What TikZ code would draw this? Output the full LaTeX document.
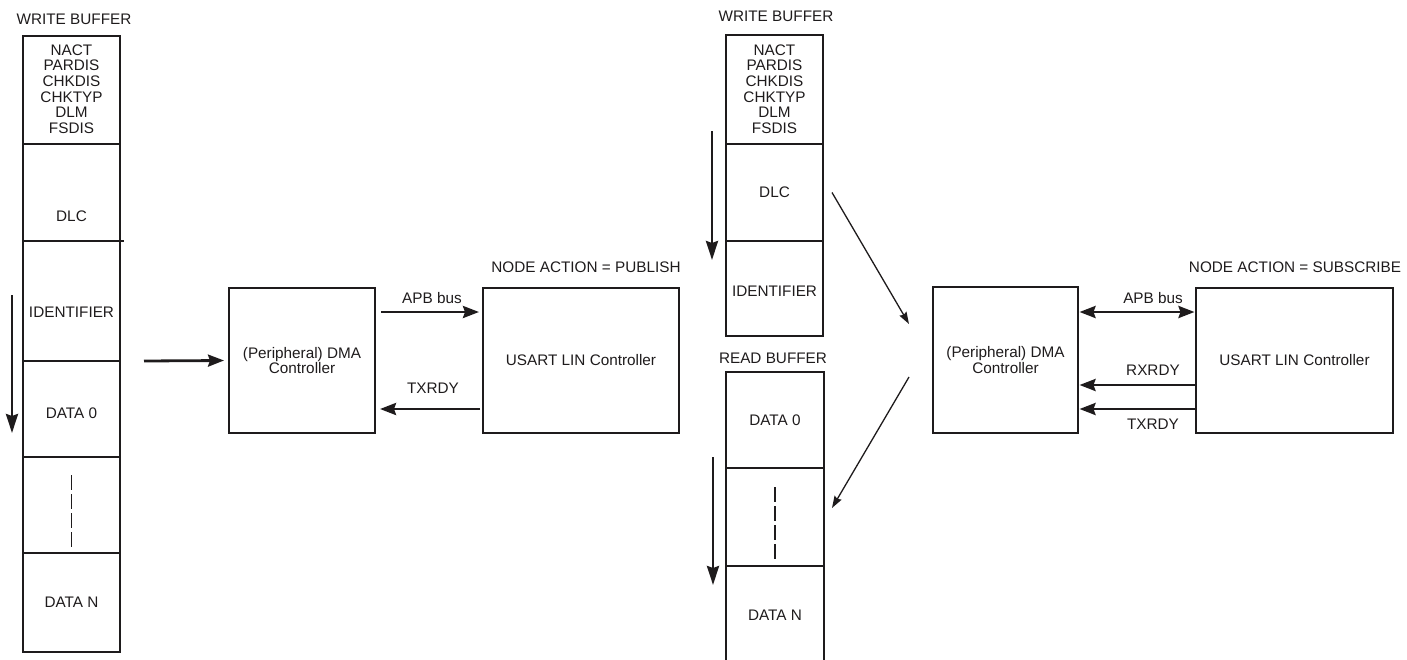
\documentclass[tikz,border=0pt]{standalone}
\usepackage{fontspec}
\setmainfont{Liberation Sans}
\usetikzlibrary{arrows.meta,calc}
\definecolor{ink}{RGB}{30,27,28}
\begin{document}
\begin{tikzpicture}[x=1pt,y=-1pt,
  font=\fontsize{15.3}{15.7}\selectfont,
  cell/.style={draw=ink, line width=2.8pt, minimum width=97pt, inner sep=0pt, outer sep=0pt},
  box/.style={draw=ink, line width=2.8pt, inner sep=0pt, outer sep=0pt, align=center, text=ink},
  txt/.style={inner sep=0pt, text=ink, align=center},
  arr/.style={ink, line width=2.8pt, -{Stealth[length=16pt,width=12pt,inset=2pt]}},
  dbl/.style={ink, line width=2.8pt, {Stealth[length=16pt,width=12pt,inset=2pt]}-{Stealth[length=16pt,width=12pt,inset=2pt]}},
  varr/.style={ink, line width=2.8pt, -{Stealth[length=19pt,width=12pt,inset=2pt]}},
  thinarr/.style={ink, line width=1.3pt, -{Stealth[length=12pt,width=8pt,inset=1.5pt]}},
  dashln/.style={ink, line width=1.3pt, dash pattern=on 15pt off 4pt},
  edge/.style={ink, line width=2.8pt}]
\useasboundingbox (0,0) rectangle (1407,659);

% ---------------- left write buffer ----------------
\node[txt] (lwbt) at (74,19) {WRITE BUFFER};
\node[cell, minimum height=108pt] (lhdr) at (71.5,90) {};
\node[cell, minimum height=97pt] (ldlc) at (71.5,192.5) {};
\node[cell, minimum height=120pt] (lid) at (71.5,301) {};
\node[cell, minimum height=96pt] (ld0) at (71.5,409) {};
\node[cell, minimum height=96pt] (ldots) at (71.5,505) {};
\node[cell, minimum height=99pt] (ldn) at (71.5,602.5) {};
\draw[edge] (ldlc.south east) -- ++(4,0);
\node[txt] (lhdrt) at (71.5,89) {NACT\\PARDIS\\CHKDIS\\CHKTYP\\DLM\\FSDIS};
\node[txt] (ldlct) at (71.5,216) {DLC};
\node[txt] (lidt) at (71.5,312) {IDENTIFIER};
\node[txt] (ld0t) at (71.5,413) {DATA 0};
\node[txt] (ldnt) at (71.5,602) {DATA N};
\draw[dashln] ($(ldots.north)+(0,18)$) -- ($(ldots.south)+(0,-6)$);
\coordinate (la1) at (12,295);
\coordinate (la2) at (12,433);
\draw[varr] (la1) -- (la2);

% ---------------- left controllers ----------------
\node[box, minimum width=146pt, minimum height=145pt] (ldma) at (302,360.5) {(Peripheral) DMA\\Controller};
\node[box, minimum width=196pt, minimum height=145pt] (lus) at (581,360.5) {USART LIN Controller};
\coordinate (lin) at (144,361);
\draw[arr] (lin) -- ($(ldma.west)+(-5,0)$);
\draw[arr] ($(ldma.north east)+(6,24)$) -- ($(lus.north west)+(-4,24)$);
\draw[arr] ($(lus.south west)+(-3,-24)$) -- ($(ldma.south east)+(5,-24)$);
\node[txt] (lapb) at (432,298) {APB bus};
\node[txt] (ltx) at (433,388) {TXRDY};
\node[txt] (lpub) at (586,267) {NODE ACTION = PUBLISH};

% ---------------- right write buffer ----------------
\node[txt] (rwbt) at (776,16) {WRITE BUFFER};
\node[cell, minimum height=109pt] (rhdr) at (774.5,89.5) {};
\node[cell, minimum height=97pt] (rdlc) at (774.5,192.5) {};
\node[cell, minimum height=95pt] (rid) at (774.5,288.5) {};
\node[txt] (rhdrt) at (774.5,89) {NACT\\PARDIS\\CHKDIS\\CHKTYP\\DLM\\FSDIS};
\node[txt] (rdlct) at (774.5,192) {DLC};
\node[txt] (ridt) at (774.5,291) {IDENTIFIER};
\coordinate (ra1) at (712,131);
\coordinate (ra2) at (712,260);
\draw[varr] (ra1) -- (ra2);

% ---------------- read buffer ----------------
\node[txt] (rrbt) at (773,358) {READ BUFFER};
\node[cell, minimum width=98pt, minimum height=96pt] (rd0) at (775,420) {};
\node[cell, minimum width=98pt, minimum height=98pt] (rdots) at (775,517) {};
\node[minimum width=98pt, minimum height=98pt, inner sep=0pt, outer sep=0pt] (rdn) at (775,615) {};
\draw[edge] (rdn.north west) -- (rdn.south west);
\draw[edge] (rdn.north east) -- (rdn.south east);
\node[txt] (rd0t) at (775,420) {DATA 0};
\node[txt] (rdnt) at (775,615) {DATA N};
\draw[dashln] ($(rdots.north)+(0,19)$) -- ($(rdots.south)+(0,-7)$);
\coordinate (rb1) at (713,457);
\coordinate (rb2) at (713,585);
\draw[varr] (rb1) -- (rb2);

% ---------------- right controllers ----------------
\node[box, minimum width=145pt, minimum height=146pt] (rdma) at (1005.5,360) {(Peripheral) DMA\\Controller};
\node[box, minimum width=197pt, minimum height=145pt] (rus) at (1294.5,360.5) {USART LIN Controller};
\draw[dbl] ($(rdma.north east)+(1.5,25)$) -- ($(rus.north west)+(-1.5,24)$);
\draw[arr] ($(rus.south west)+(-1.5,-48)$) -- ($(rdma.south east)+(1.5,-48)$);
\draw[arr] ($(rus.south west)+(-1.5,-24)$) -- ($(rdma.south east)+(1.5,-24)$);
\node[txt] (rapb) at (1153,298) {APB bus};
\node[txt] (rrx) at (1153,370) {RXRDY};
\node[txt] (rtx) at (1153,424) {TXRDY};
\node[txt] (rsub) at (1295,267) {NODE ACTION = SUBSCRIBE};

% ---------------- diagonal arrows ----------------
\draw[thinarr] ($(rdlc.east)+(9,0)$) -- ($(rdma.west)+(-24,-36)$);
\draw[thinarr] ($(rdma.west)+(-24,17)$) -- ($(rdots.east)+(8,-9)$);
\end{tikzpicture}
\end{document}
